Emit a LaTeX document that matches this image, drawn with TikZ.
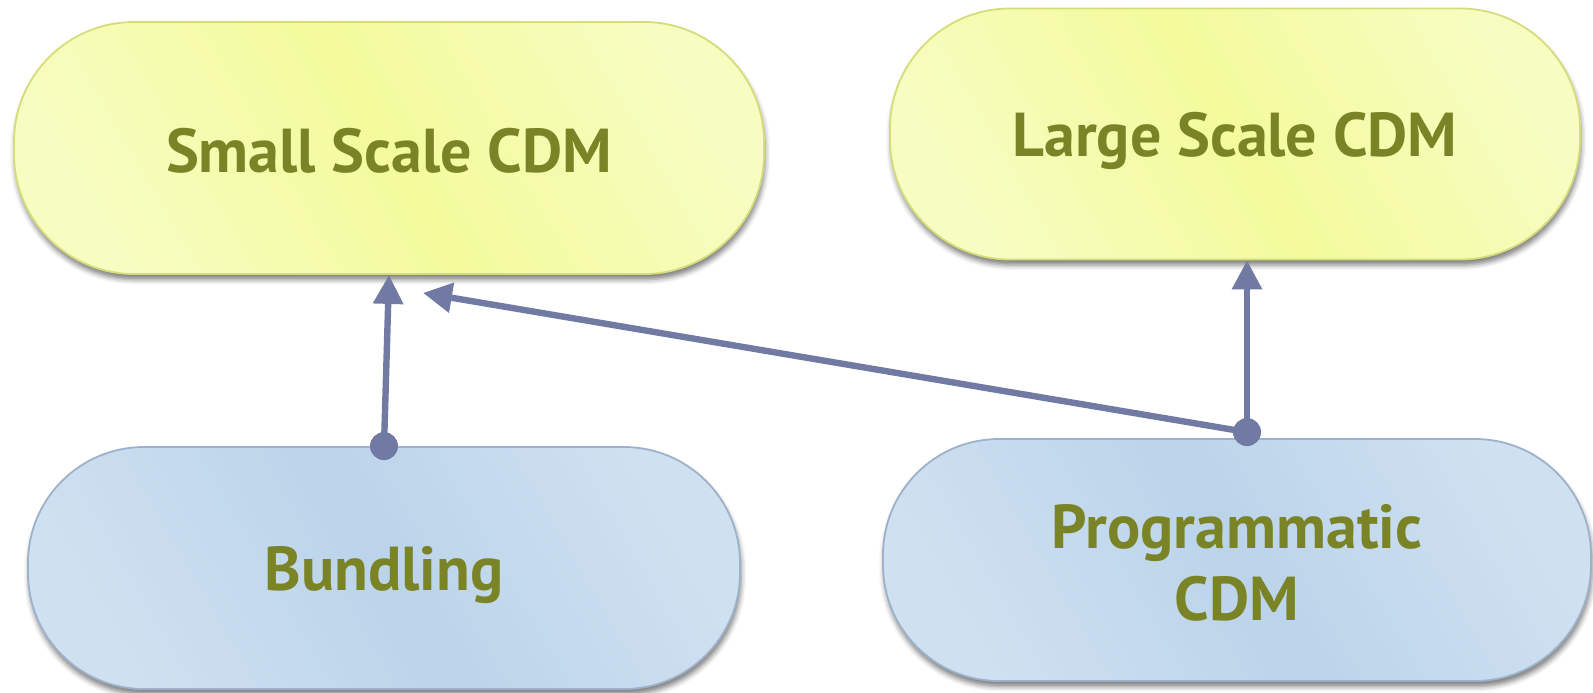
\documentclass[tikz,border=0pt]{standalone}
\usepackage{fontspec}
\setmainfont{PT Sans}
\usetikzlibrary{arrows.meta,shadows.blur,calc}

\definecolor{textolive}{HTML}{7A8427}
\definecolor{linkblue}{HTML}{717AA3}
\definecolor{yelFill}{HTML}{F3FB9C}
\definecolor{yelLight}{HTML}{F7FCC0}
\definecolor{yelEdge}{HTML}{D5DD7A}
\definecolor{bluFill}{HTML}{BBD4EA}
\definecolor{bluLight}{HTML}{CFE0F0}
\definecolor{bluEdge}{HTML}{9DB2CA}

% lower a label inside its box without changing the box's size
\newcommand{\dropby}[2]{\raisebox{-#1}[\height][\depth]{#2}}

\tikzset{
  pill/.style={rectangle, line width=0.9pt,
    font=\bfseries\fontsize{31}{36}\selectfont, text=textolive, align=center,
    blur shadow={shadow xshift=0.6pt, shadow yshift=-2.8pt,
                 shadow blur radius=2.5pt, shadow opacity=50}},
  upper/.style={pill, rounded corners=60pt, draw=yelEdge, shading=axis,
    left color=yelLight, right color=yelLight, middle color=yelFill,
    shading angle=120},
  lower/.style={pill, rounded corners=58pt, draw=bluEdge, shading=axis,
    left color=bluLight, right color=bluLight, middle color=bluFill,
    shading angle=120},
  link/.style={draw=linkblue, line width=3.2pt,
    -{Triangle[length=14.5pt,width=14.5pt]}},
  knob/.style={fill=linkblue}
}

\begin{document}
\begin{tikzpicture}[x=0.5pt,y=-0.5pt]
  \useasboundingbox (0,0) rectangle (1593,692);

  % concept boxes
  \node[upper, minimum width=375pt, minimum height=126pt] (small) at (389,148) {\dropby{1.5pt}{Small Scale CDM}};
  \node[upper, minimum width=345pt, minimum height=125.5pt] (large) at (1235,134) {\dropby{3.5pt}{Large Scale CDM}};
  \node[lower, minimum width=356pt, minimum height=121pt] (bund) at (384,568) {\dropby{3.5pt}{Bundling}};
  \node[lower, minimum width=354pt, minimum height=121pt] (prog) at (1237,560) {\dropby{5pt}{\begin{tabular}{@{}c@{}}Programmatic\\CDM\end{tabular}}};

  % connector anchor points
  \coordinate (pd) at ($(prog.north)+(10,-6)$);
  \coordinate (st) at ($(small.south)+(34,18)$);

  % links
  \draw[link] (bund.north) -- (small.south);
  \draw[link] (pd) -- (pd |- large.south);
  \draw[link] (pd) -- (st);
  \fill[knob] (bund.north) circle (7pt);
  \fill[knob] (pd) circle (7pt);
\end{tikzpicture}
\end{document}
